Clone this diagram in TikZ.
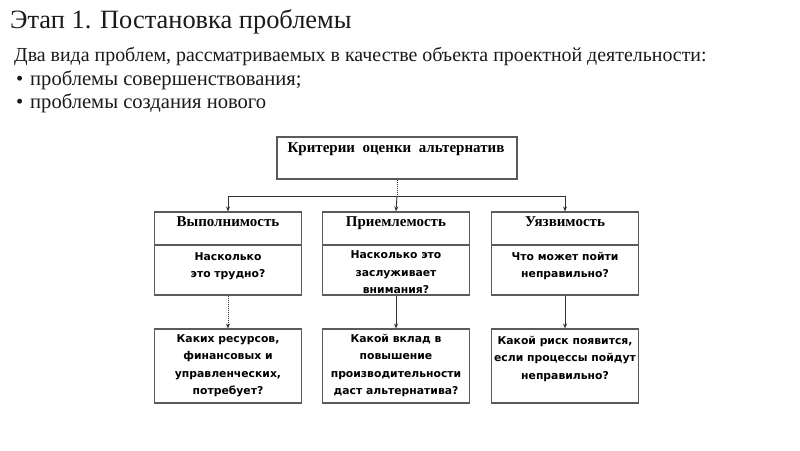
\documentclass[tikz,border=0pt]{standalone}
\usepackage{fontspec}
\setmainfont{Liberation Serif}
\newfontfamily\boxsans{DejaVu Sans}
\usetikzlibrary{arrows.meta}
\definecolor{boxline}{HTML}{5A5A5A}
\definecolor{conline}{HTML}{333333}
\definecolor{txt}{HTML}{1A1A1A}
\tikzset{
  box/.style={draw=boxline, line width=1.1pt, rectangle, inner sep=0pt, minimum width=147pt},
  headtxt/.style={font=\fontsize{15}{18}\selectfont\bfseries, text=black, inner sep=0pt, anchor=base},
  qtxt/.style={font=\boxsans\fontsize{10.8}{17.5}\selectfont\bfseries, text=black, align=center, inner sep=0pt, anchor=north},
  con/.style={draw=conline, line width=0.9pt},
  arr/.style={con, -{Stealth[length=5pt,width=4pt]}},
  dots/.style={dash pattern=on 1pt off 1pt},
  plain/.style={inner sep=0pt, anchor=base west, text=txt},
  bodytxt/.style={plain, font=\fontsize{20.6}{24}\selectfont}
}
\begin{document}
\begin{tikzpicture}[x=1pt,y=-1pt]
\useasboundingbox[fill=white] (0,0) rectangle (800,450);
% header text
\node[plain, font=\fontsize{26.4}{31}\selectfont] (title) at (10,28) {Этап 1. Постановка проблемы};
\node[plain, font=\fontsize{19.9}{24}\selectfont] (intro) at (14,61) {Два вида проблем, рассматриваемых в качестве объекта проектной деятельности:};
\node[bodytxt] (b1) at (16,85) {•};
\node[bodytxt] (l1) at (30,85) {проблемы совершенствования;};
\node[bodytxt] (b2) at (16,108) {•};
\node[bodytxt] (l2) at (30,108) {проблемы создания нового};
% top box
\node[box, minimum width=240pt, minimum height=42pt] (top) at (397,158) {};
\node[headtxt] (toptxt) at (396,152) {Критерии\ \ оценки\ \ альтернатив};
% middle boxes
\foreach \n/\x/\h in {1/228/Выполнимость, 2/396/Приемлемость, 3/565/Уязвимость}{
  \node[box, minimum height=33pt] (h\n) at (\x,228.5) {};
  \node[headtxt] (ht\n) at (\x,226.5) {\h};
  \node[box, minimum height=50pt] (q\n) at (\x,270) {};
  \node[box, minimum height=74pt] (r\n) at (\x,366) {};
}
\node[qtxt] at ([yshift=-7.5pt]q1.north) {Насколько\\это трудно?};
\node[qtxt] at ([yshift=-6pt]q2.north) {Насколько это\\заслуживает\\внимания?};
\node[qtxt] at ([yshift=-7.5pt]q3.north) {Что может пойти\\неправильно?};
\node[qtxt] at ([yshift=-5.5pt]r1.north) {Каких ресурсов,\\финансовых и\\управленческих,\\потребует?};
\node[qtxt] at ([yshift=-5.5pt]r2.north) {Какой вклад в\\повышение\\производительности\\даст альтернатива?};
\node[qtxt] at ([yshift=-7.5pt]r3.north) {Какой риск появится,\\если процессы пойдут\\неправильно?};
% connectors
\coordinate (j) at (top.south |- 0,196);
\coordinate (jl) at (h1.north |- j);
\coordinate (jr) at (h3.north |- j);
\draw[con, dots] (top.south) -- (j);
\draw[con] (jl) -- (jr);
\draw[arr] (jl) -- (h1.north);
\draw[arr] (j) -- (h2.north);
\draw[arr] (jr) -- (h3.north);
\draw[arr, dots] (q1.south) -- (r1.north);
\draw[arr] (q2.south) -- (r2.north);
\draw[arr] (q3.south) -- (r3.north);
\end{tikzpicture}
\end{document}
